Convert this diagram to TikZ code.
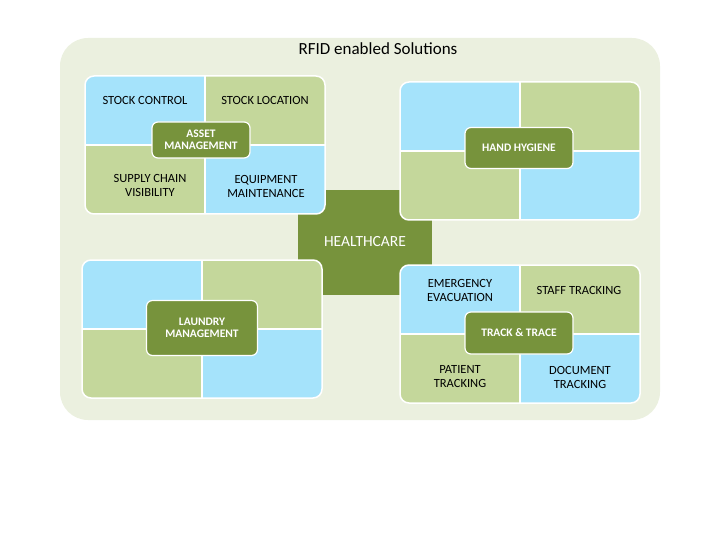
\documentclass[tikz,border=0pt]{standalone}
\usepackage{fontspec}
\setmainfont{Carlito}
\usetikzlibrary{positioning}
\definecolor{tileblue}{HTML}{A5E3FB}
\definecolor{tilegreen}{HTML}{C4D79B}
\definecolor{hubgreen}{HTML}{77933C}
\definecolor{backdrop}{HTML}{EBF0DF}
\newcommand{\cluster}[2]{%
  \begin{scope}
    \clip[rounded corners=9pt] (#1,#2) rectangle ++(240,138);
    \fill[tileblue] (#1,#2) rectangle ++(120,69);
    \fill[tilegreen] (#1+120,#2) rectangle ++(120,69);
    \fill[tilegreen] (#1,#2+69) rectangle ++(120,69);
    \fill[tileblue] (#1+120,#2+69) rectangle ++(120,69);
  \end{scope}
  \draw[white,line width=1.5pt,rounded corners=9pt] (#1,#2) rectangle ++(240,138);
  \draw[white,line width=1.5pt] (#1+120,#2) -- ++(0,138) (#1,#2+69) -- ++(240,0);
}
\begin{document}
\begin{tikzpicture}[x=1pt,y=-1pt,
  hub/.style={fill=hubgreen,draw=white,line width=1.2pt,rounded corners=6pt,
    text=white,font=\bfseries\fontsize{11.5}{12.5}\selectfont,align=center},
  tile/.style={align=center,font=\fontsize{12.5}{14}\selectfont,inner sep=1pt}]
  \useasboundingbox (0,0) rectangle (720,540);
  \fill[backdrop,rounded corners=28pt] (60,38) rectangle (660,420);
  \node (title) at (378,49) {\fontsize{17}{19}\selectfont RFID enabled Solutions};
  % centre
  \node[fill=hubgreen,minimum width=134pt,minimum height=105pt,inner sep=0pt] (care) at (365,242.5) {};
  \node[text=white,font=\fontsize{15.5}{17}\selectfont] (caretext) at (365,242) {HEALTHCARE};
  % clusters
  \cluster{85}{76}
  \cluster{400}{82}
  \cluster{82}{260}
  \cluster{400}{265}
  \node[hub,minimum width=98pt,minimum height=36pt] (asset) at (201,140) {ASSET\\MANAGEMENT};
  \node[hub,minimum width=108pt,minimum height=41pt] (hygiene) at (519,148) {HAND HYGIENE};
  \node[hub,minimum width=111pt,minimum height=55pt] (laundry) at (202,328) {LAUNDRY\\MANAGEMENT};
  \node[hub,minimum width=108pt,minimum height=42pt] (trace) at (519,333) {TRACK \& TRACE};
  % tiles
  \node[tile] (stockctl) at (145,100) {STOCK CONTROL};
  \node[tile] (stockloc) at (265,100) {STOCK LOCATION};
  \node[tile] (supply) at (150,185) {SUPPLY CHAIN\\VISIBILITY};
  \node[tile] (equip) at (266,186) {EQUIPMENT\\MAINTENANCE};
  \node[tile] (evac) at (460,290) {EMERGENCY\\EVACUATION};
  \node[tile] (staff) at (579,290) {STAFF TRACKING};
  \node[tile] (patient) at (460,377) {PATIENT\\TRACKING};
  \node[tile] (document) at (580,377) {DOCUMENT\\TRACKING};
\end{tikzpicture}
\end{document}
